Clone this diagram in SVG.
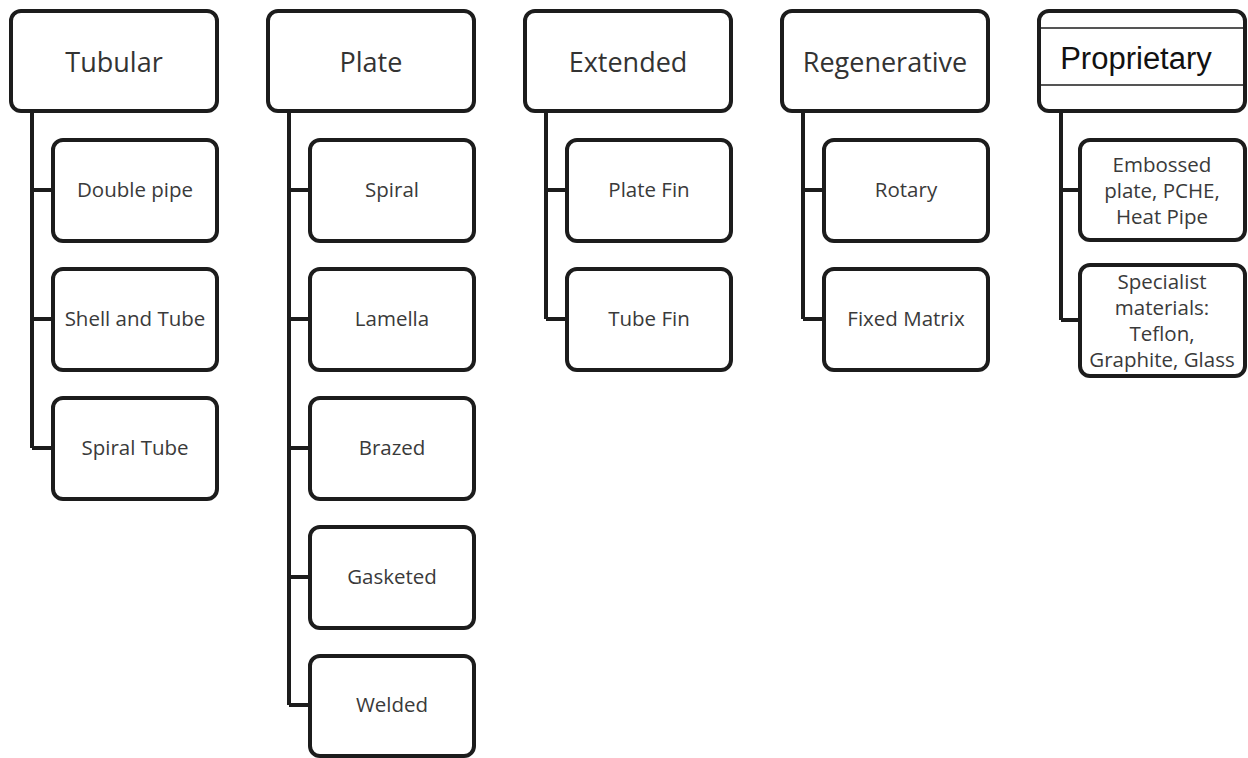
<svg xmlns="http://www.w3.org/2000/svg" width="1248" height="758" viewBox="0 0 1248 758">
<style>
.box{fill:#fff;stroke:#1c1c1c;stroke-width:4}
.conn{fill:none;stroke:#1c1c1c;stroke-width:4}
.h{font-family:"Open Sans","DejaVu Sans",sans-serif;font-size:27px;fill:#333;text-anchor:middle;dominant-baseline:central}
.c{font-family:"Open Sans","DejaVu Sans",sans-serif;font-size:20.5px;fill:#3a3a3a;text-anchor:middle}
.p{font-family:"Liberation Sans",Arial,sans-serif;font-size:31px;fill:#111;text-anchor:middle;dominant-baseline:central}
.thin{stroke:#1c1c1c;stroke-width:1.5}
</style>
<rect width="1248" height="758" fill="#fff"/>
<g id="connectors">
<path class="conn" d="M32 111 V448 M32 190 H53 M32 319 H53 M32 448 H53"/>
<path class="conn" d="M289 111 V705 M289 190 H310 M289 319 H310 M289 448 H310 M289 577 H310 M289 705 H310"/>
<path class="conn" d="M546 111 V319 M546 190 H567 M546 319 H567"/>
<path class="conn" d="M803 111 V319 M803 190 H824 M803 319 H824"/>
<path class="conn" d="M1061 111 V320 M1061 190 H1080 M1061 320 H1080"/>
</g>
<g id="tubular"><rect class="box" x="11" y="11" width="206" height="100" rx="10"/><text class="h" x="114" y="61">Tubular</text></g>
<g id="double-pipe"><rect class="box" x="53" y="140" width="164" height="101" rx="10"/><text class="c" x="135" y="197">Double pipe</text></g>
<g id="shell-tube"><rect class="box" x="53" y="269" width="164" height="101" rx="10"/><text class="c" x="135" y="326">Shell and Tube</text></g>
<g id="spiral-tube"><rect class="box" x="53" y="398" width="164" height="101" rx="10"/><text class="c" x="135" y="455">Spiral Tube</text></g>
<g id="plate"><rect class="box" x="268" y="11" width="206" height="100" rx="10"/><text class="h" x="371" y="61">Plate</text></g>
<g id="spiral"><rect class="box" x="310" y="140" width="164" height="101" rx="10"/><text class="c" x="392" y="197">Spiral</text></g>
<g id="lamella"><rect class="box" x="310" y="269" width="164" height="101" rx="10"/><text class="c" x="392" y="326">Lamella</text></g>
<g id="brazed"><rect class="box" x="310" y="398" width="164" height="101" rx="10"/><text class="c" x="392" y="455">Brazed</text></g>
<g id="gasketed"><rect class="box" x="310" y="527" width="164" height="101" rx="10"/><text class="c" x="392" y="584">Gasketed</text></g>
<g id="welded"><rect class="box" x="310" y="656" width="164" height="100" rx="10"/><text class="c" x="392" y="712">Welded</text></g>
<g id="extended"><rect class="box" x="525" y="11" width="206" height="100" rx="10"/><text class="h" x="628" y="61">Extended</text></g>
<g id="plate-fin"><rect class="box" x="567" y="140" width="164" height="101" rx="10"/><text class="c" x="649" y="197">Plate Fin</text></g>
<g id="tube-fin"><rect class="box" x="567" y="269" width="164" height="101" rx="10"/><text class="c" x="649" y="326">Tube Fin</text></g>
<g id="regenerative"><rect class="box" x="782" y="11" width="206" height="100" rx="10"/><text class="h" x="885" y="61">Regenerative</text></g>
<g id="rotary"><rect class="box" x="824" y="140" width="164" height="101" rx="10"/><text class="c" x="906" y="197">Rotary</text></g>
<g id="fixed-matrix"><rect class="box" x="824" y="269" width="164" height="101" rx="10"/><text class="c" x="906" y="326">Fixed Matrix</text></g>
<g id="proprietary"><rect class="box" x="1039" y="11" width="206" height="100" rx="10"/><line class="thin" x1="1039" y1="28" x2="1245" y2="28"/><line class="thin" x1="1039" y1="85" x2="1245" y2="85"/><text class="p" x="1136" y="58">Proprietary</text></g>
<g id="embossed"><rect class="box" x="1080" y="140" width="165" height="100" rx="10"/><text class="c" x="1162" y="172">Embossed</text><text class="c" x="1162" y="198">plate, PCHE,</text><text class="c" x="1162" y="224">Heat Pipe</text></g>
<g id="specialist"><rect class="box" x="1080" y="265" width="165" height="111" rx="10"/><text class="c" x="1162" y="289">Specialist</text><text class="c" x="1162" y="315">materials:</text><text class="c" x="1162" y="341">Teflon,</text><text class="c" x="1162" y="367">Graphite, Glass</text></g>
</svg>
